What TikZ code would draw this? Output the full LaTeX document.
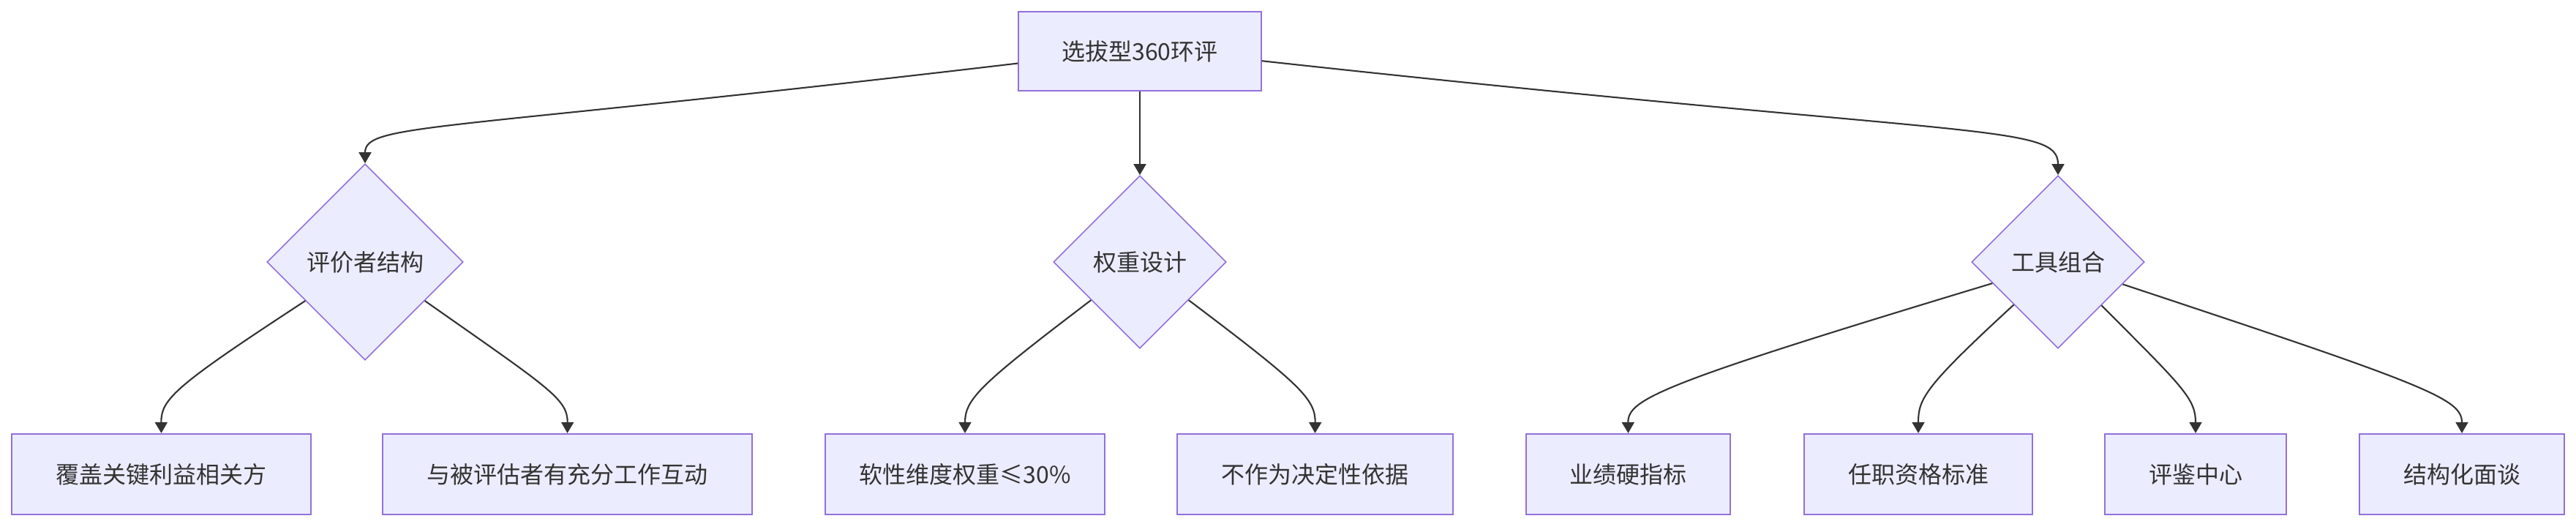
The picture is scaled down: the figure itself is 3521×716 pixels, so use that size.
\documentclass[tikz,border=0pt]{standalone}
\usepackage{fontspec}
\setmainfont{Noto Sans CJK SC}
\usetikzlibrary{shapes.geometric, arrows.meta, calc}

\definecolor{boxfill}{HTML}{ECECFF}
\definecolor{boxline}{HTML}{9370DB}
\definecolor{ink}{HTML}{333333}

\tikzset{
    box/.style = {rectangle, draw=boxline, fill=boxfill, line width=0.6pt, text=ink,
        minimum height=1.1cm, inner sep=0pt, font=\fontsize{9.1pt}{11pt}\selectfont},
    choice/.style = {diamond, aspect=1, draw=boxline, fill=boxfill, line width=0.45pt,
        text=ink, inner sep=0pt, font=\fontsize{9.1pt}{11pt}\selectfont},
    link/.style = {draw=ink, line width=0.6pt, -{Triangle[length=0.15cm, width=0.17cm]}}
}

\begin{document}
\begin{tikzpicture}[x=0.01cm, y=-0.01cm]

    % Fix the size of the page
    \useasboundingbox (0,0) rectangle (3521,716);

    % Draw the top node
    \node[box, minimum width=3.31cm, minimum height=1.08cm] (S) at (1558,70) {选拔型360环评};

    % Draw the three diamonds
    \node[choice, minimum size=2.68cm] (R) at (499,358) {评价者结构};
    \node[choice, minimum size=2.36cm] (W) at (1558,358) {权重设计};
    \node[choice, minimum size=2.36cm] (T) at (2813,358) {工具组合};

    % Draw the bottom row
    \node[box, minimum width=4.09cm] (R1) at (220.5,648) {覆盖关键利益相关方};
    \node[box, minimum width=5.05cm] (R2) at (775.5,648) {与被评估者有充分工作互动};
    \node[box, minimum width=3.81cm] (W1) at (1319,648) {软性维度权重≤30\%};
    \node[box, minimum width=3.77cm] (W2) at (1797.5,648) {不作为决定性依据};
    \node[box, minimum width=2.79cm] (T1) at (2225.5,648) {业绩硬指标};
    \node[box, minimum width=3.12cm] (T2) at (2622,648) {任职资格标准};
    \node[box, minimum width=2.48cm] (T3) at (3001,648) {评鉴中心};
    \node[box, minimum width=2.80cm] (T4) at (3365,648) {结构化面谈};

    % Draw links from the top node
    \draw[link] ($(S.west)!0.3!(S.south west)$) .. controls (600,180) and (499,168) .. (R.north);
    \draw[link] (S.south) -- (W.north);
    \draw[link] ($(S.east)!0.24!(S.south east)$) .. controls (2700,190) and (2813,168) .. (T.north);

    % Draw links from the diamonds
    \draw[link] (R.213) .. controls (240,527) and (220,545) .. (R1.north);
    \draw[link] (R.327) .. controls (750,530) and (776,545) .. (R2.north);
    \draw[link] (W.218) .. controls (1340,525) and (1319,545) .. (W1.north);
    \draw[link] (W.322) .. controls (1777,525) and (1798,545) .. (W2.north);
    \draw[link] (T.198) .. controls (2270,524) and (2225,545) .. (T1.north);
    \draw[link] (T.224) .. controls (2630,529) and (2622,545) .. (T2.north);
    \draw[link] (T.315) .. controls (2985,530) and (3001,545) .. (T3.north);
    \draw[link] (T.341) .. controls (3320,527) and (3365,545) .. (T4.north);

\end{tikzpicture}
\end{document}
